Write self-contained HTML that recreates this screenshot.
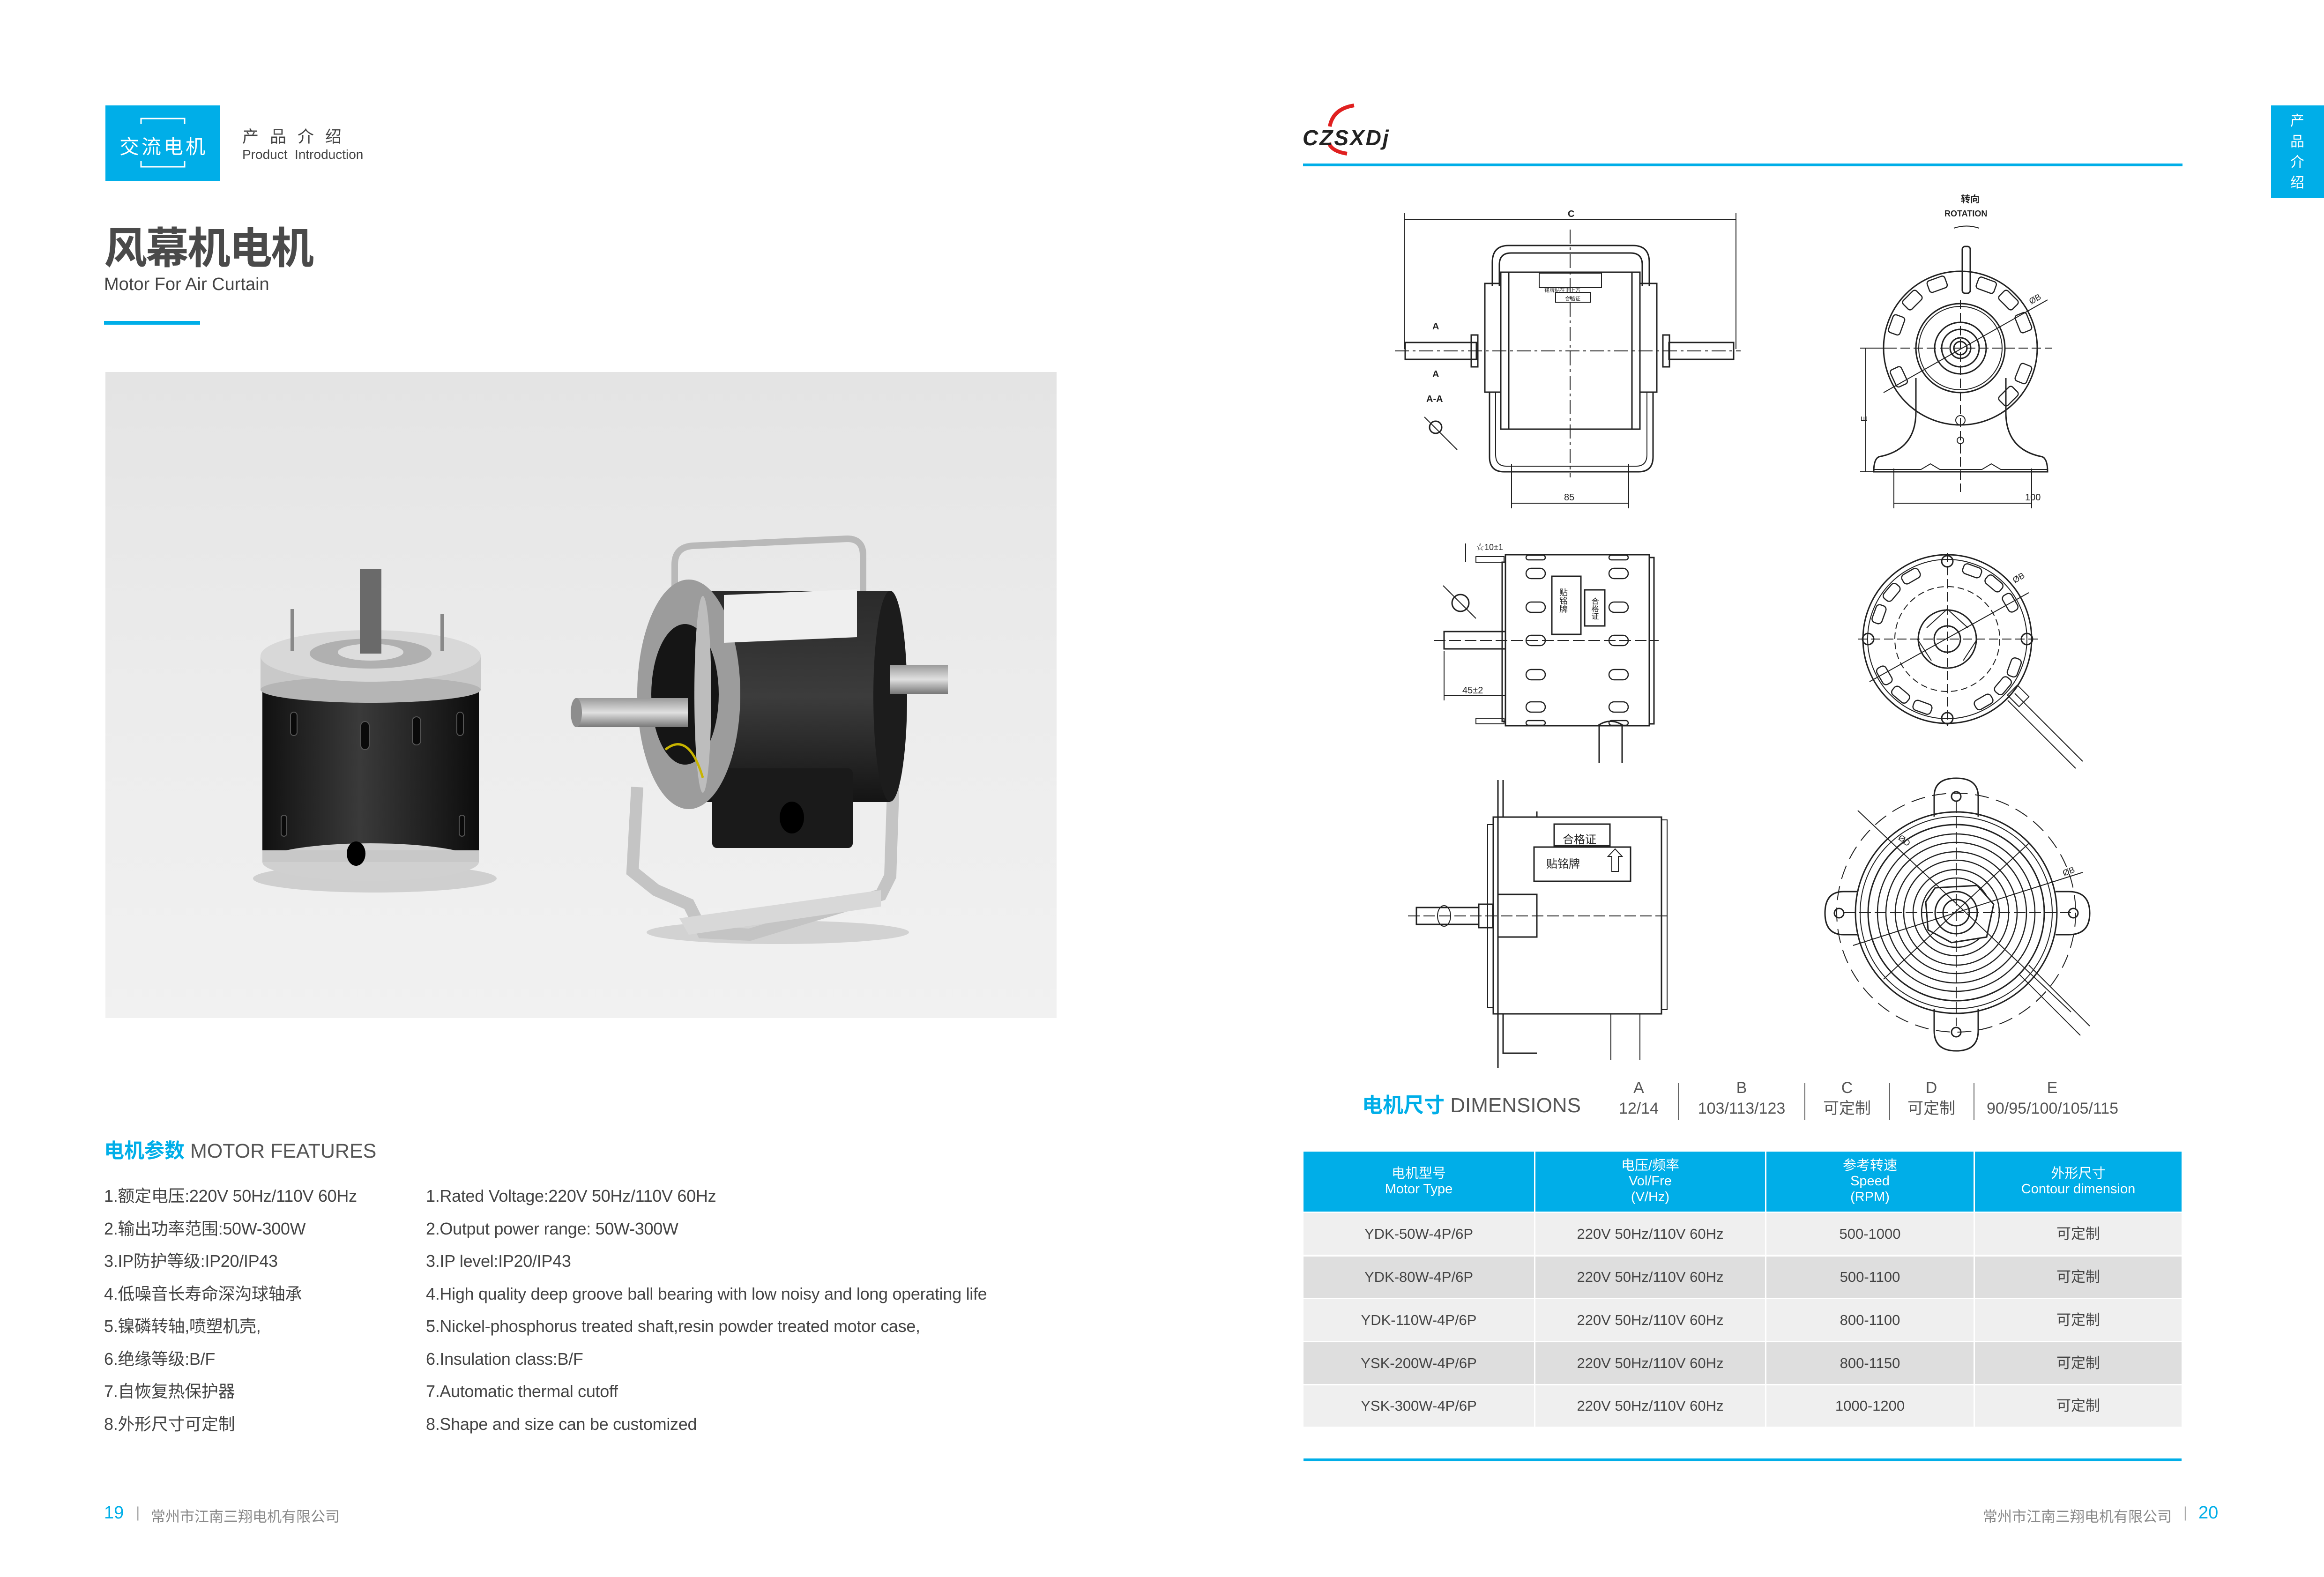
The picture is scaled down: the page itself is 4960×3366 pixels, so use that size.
<!DOCTYPE html>
<html><head><meta charset="utf-8">
<style>
*{margin:0;padding:0;box-sizing:border-box}
body{width:4960px;height:3366px;background:#fff;position:relative;overflow:hidden;font-family:"Liberation Sans","Noto Sans CJK SC",sans-serif;color:#444}
.a{position:absolute;white-space:nowrap}
.blue{color:#00aee8}
.cell{position:absolute;display:flex;align-items:center;justify-content:center;text-align:center;font-size:31px;color:#444;line-height:1.15}
.hd{background:#00aee8;color:#fff;font-size:29px}
.f{position:absolute;font-size:36px;color:#444;white-space:nowrap;letter-spacing:-0.3px;line-height:44px}
</style></head><body>

<!-- left header -->
<div class="a" style="left:225px;top:225px;width:244px;height:161px;background:#00aee8"></div>
<svg class="a" style="left:225px;top:225px" width="244" height="161">
<path d="M76 40 V28 H169 V40 M76 119 V131 H169 V119" stroke="#fff" stroke-width="3" fill="none"/>
</svg>
<div class="a" style="left:255px;top:280px;font-size:42px;color:#fff;letter-spacing:5px">交流电机</div>
<div class="a" style="left:517px;top:264px;font-size:35px;color:#444;letter-spacing:24px">产品介绍</div>
<div class="a" style="left:517px;top:314px;font-size:28px;color:#444">Product&nbsp; Introduction</div>
<div class="a" style="left:222px;top:456px;font-size:92px;color:#4a4a4a;font-weight:bold;letter-spacing:-3px">风幕机电机</div>
<div class="a" style="left:222px;top:586px;font-size:38px;color:#444">Motor For Air Curtain</div>
<div class="a" style="left:222px;top:685px;width:205px;height:8px;background:#00aee8"></div>

<!-- photo -->
<div class="a" style="left:225px;top:794px;width:2030px;height:1379px;background:linear-gradient(180deg,#e4e4e4 0%,#ececec 50%,#f1f1f1 100%)"></div>
<svg class="a" style="left:0;top:0" width="2300" height="2200">
<defs>
<linearGradient id="blk" x1="0" x2="1"><stop offset="0" stop-color="#111"/><stop offset=".45" stop-color="#3a3a3a"/><stop offset="1" stop-color="#0d0d0d"/></linearGradient>
<linearGradient id="blk2" x1="0" y1="0" x2="0" y2="1"><stop offset="0" stop-color="#2a2a2a"/><stop offset=".5" stop-color="#3c3c3c"/><stop offset="1" stop-color="#141414"/></linearGradient>
<linearGradient id="sil" x1="0" y1="0" x2="0" y2="1"><stop offset="0" stop-color="#9a9a9a"/><stop offset=".5" stop-color="#e0e0e0"/><stop offset="1" stop-color="#777"/></linearGradient>
</defs>
<ellipse cx="800" cy="1875" rx="260" ry="30" fill="#cfcfcf"/>
<rect x="560" y="1470" width="462" height="370" fill="url(#blk)"/>
<ellipse cx="791" cy="1840" rx="231" ry="40" fill="#d0d0d0"/>
<rect x="560" y="1815" width="462" height="25" fill="#c8c8c8"/>
<rect x="556" y="1400" width="470" height="72" fill="#c9c9c9"/>
<ellipse cx="791" cy="1472" rx="235" ry="28" fill="#b5b5b5"/>
<ellipse cx="791" cy="1400" rx="235" ry="55" fill="#d8d8d8"/>
<ellipse cx="791" cy="1395" rx="130" ry="32" fill="#b0b0b0"/>
<ellipse cx="791" cy="1392" rx="70" ry="18" fill="#ddd"/>
<rect x="768" y="1215" width="46" height="180" fill="#6a6a6a"/>
<rect x="620" y="1300" width="8" height="90" fill="#888"/><rect x="940" y="1310" width="8" height="80" fill="#888"/>
<g fill="#0a0a0a" stroke="#555" stroke-width="2">
<rect x="620" y="1520" width="14" height="50" rx="7"/><rect x="770" y="1540" width="18" height="60" rx="9"/><rect x="880" y="1530" width="18" height="60" rx="9"/><rect x="975" y="1520" width="14" height="50" rx="7"/>
<rect x="600" y="1740" width="12" height="45" rx="6"/><rect x="980" y="1740" width="12" height="45" rx="6"/>
</g>
<ellipse cx="760" cy="1822" rx="20" ry="26" fill="#000"/>
<!-- right motor -->
<ellipse cx="1660" cy="1990" rx="280" ry="25" fill="#d2d2d2"/>
<path d="M1440 1340 L1440 1205 Q1440 1168 1478 1165 L1808 1150 Q1842 1150 1842 1185 L1842 1285" stroke="#b9b9b9" stroke-width="14" fill="none"/>
<path d="M1360 1680 L1350 1860 L1400 1900 L1470 1930 L1500 1990 L1600 1995 L1880 1910 L1900 1870 L1907 1660" stroke="#c4c4c4" stroke-width="26" fill="none"/>
<polygon points="1450,1960 1880,1900 1880,1935 1470,1995" fill="#d8d8d8"/>
<rect x="1460" y="1262" width="440" height="450" fill="url(#blk2)"/>
<ellipse cx="1900" cy="1486" rx="36" ry="225" fill="#1c1c1c"/>
<rect x="1520" y="1640" width="300" height="170" rx="10" fill="#1a1a1a"/>
<ellipse cx="1690" cy="1745" rx="26" ry="34" fill="#000"/>
<ellipse cx="1470" cy="1482" rx="110" ry="245" fill="#9c9c9c"/>
<ellipse cx="1462" cy="1482" rx="72" ry="150" fill="#151515"/>
<ellipse cx="1500" cy="1482" rx="18" ry="210" fill="#bdbdbd"/>
<rect x="1228" y="1490" width="240" height="62" fill="url(#sil)"/>
<ellipse cx="1230" cy="1521" rx="12" ry="31" fill="#8d8d8d"/>
<rect x="1900" y="1419" width="123" height="62" fill="url(#sil)"/>
<polygon points="1545,1270 1829,1258 1829,1360 1545,1372" fill="#efefef"/>
<path d="M1420 1600 Q1470 1560 1500 1660" stroke="#c8b400" stroke-width="5" fill="none"/>
</svg>

<!-- features -->
<div class="a" style="left:222px;top:2422px;font-size:43px;color:#555"><b class="blue">电机参数</b> MOTOR FEATURES</div>
<div class="f" style="left:222px;top:2531px">1.额定电压:220V 50Hz/110V 60Hz</div>
<div class="f" style="left:222px;top:2601px">2.输出功率范围:50W-300W</div>
<div class="f" style="left:222px;top:2670px">3.IP防护等级:IP20/IP43</div>
<div class="f" style="left:222px;top:2740px">4.低噪音长寿命深沟球轴承</div>
<div class="f" style="left:222px;top:2809px">5.镍磷转轴,喷塑机壳,</div>
<div class="f" style="left:222px;top:2879px">6.绝缘等级:B/F</div>
<div class="f" style="left:222px;top:2948px">7.自恢复热保护器</div>
<div class="f" style="left:222px;top:3018px">8.外形尺寸可定制</div>
<div class="f" style="left:909px;top:2531px">1.Rated Voltage:220V 50Hz/110V 60Hz</div>
<div class="f" style="left:909px;top:2601px">2.Output power range: 50W-300W</div>
<div class="f" style="left:909px;top:2670px">3.IP level:IP20/IP43</div>
<div class="f" style="left:909px;top:2740px">4.High quality deep groove ball bearing with low noisy and long operating life</div>
<div class="f" style="left:909px;top:2809px">5.Nickel-phosphorus treated shaft,resin powder treated motor case,</div>
<div class="f" style="left:909px;top:2879px">6.Insulation class:B/F</div>
<div class="f" style="left:909px;top:2948px">7.Automatic thermal cutoff</div>
<div class="f" style="left:909px;top:3018px">8.Shape and size can be customized</div>

<div class="a" style="left:222px;top:3208px;font-size:38px;color:#00aee8">19</div>
<div class="a" style="left:290px;top:3210px;font-size:32px;color:#aaa">|</div>
<div class="a" style="left:322px;top:3212px;font-size:31px;color:#888">常州市江南三翔电机有限公司</div>

<!-- right header -->
<svg class="a" style="left:2770px;top:220px" width="240" height="115">
<path d="M120 5 Q75 12 68 50 M66 85 Q72 103 105 108" stroke="#e02020" stroke-width="8" fill="none"/>
<text x="10" y="90" font-family="Liberation Sans" font-size="46" font-weight="bold" font-style="italic" fill="#222" letter-spacing="3">CZSXDj</text>
</svg>
<div class="a" style="left:2781px;top:349px;width:1877px;height:6px;background:#00aee8"></div>
<div class="a" style="left:4847px;top:225px;width:113px;height:198px;background:#00aee8"></div>
<div class="a" style="left:4888px;top:237px;font-size:30px;color:#fff;line-height:44px;width:32px;white-space:normal">产<br>品<br>介<br>绍</div>

<!-- drawings -->
<svg class="a" style="left:0;top:0" width="4960" height="2300" font-family="Liberation Sans,Noto Sans CJK SC,sans-serif">
<g stroke="#222" stroke-width="3" fill="none">
<!-- D1 front view -->
<line x1="2997" y1="468" x2="3705" y2="468" stroke-width="2"/>
<line x1="2997" y1="455" x2="2997" y2="745" stroke-width="2"/><line x1="3705" y1="455" x2="3705" y2="745" stroke-width="2"/>
<path d="M3185 611 V560 Q3185 524 3220 524 H3485 Q3520 524 3520 560 V611"/>
<path d="M3200 611 V565 Q3200 540 3225 540 H3480 Q3505 540 3505 565 V611"/>
<rect x="3203" y="581" width="297" height="335"/>
<line x1="3220" y1="581" x2="3220" y2="916"/><line x1="3483" y1="581" x2="3483" y2="916"/>
<rect x="3285" y="583" width="133" height="31" stroke-width="2"/>
<rect x="3320" y="624" width="75" height="21" stroke-width="2"/>
<rect x="3169" y="605" width="34" height="232"/><rect x="3500" y="605" width="36" height="232"/>
<path d="M3179 837 V975 Q3179 1007 3210 1007 H3497 Q3528 1007 3528 975 V837"/>
<path d="M3192 837 V970 Q3192 995 3215 995 H3492 Q3515 995 3515 970 V837" stroke-width="2"/>
<rect x="2999" y="731" width="152" height="36"/><rect x="3562" y="731" width="138" height="36"/>
<rect x="3140" y="715" width="14" height="68"/><rect x="3549" y="715" width="14" height="68"/>
<line x1="2977" y1="749" x2="3715" y2="749" stroke-width="2" stroke-dasharray="30 8 6 8"/>
<line x1="3351" y1="490" x2="3351" y2="1019" stroke-width="2" stroke-dasharray="30 8 6 8"/>
<circle cx="3064" cy="912" r="13"/><line x1="3040" y1="890" x2="3110" y2="960" stroke-width="2"/>
<line x1="3226" y1="990" x2="3226" y2="1085" stroke-width="2"/><line x1="3476" y1="990" x2="3476" y2="1085" stroke-width="2"/>
<line x1="3226" y1="1074" x2="3476" y2="1074" stroke-width="2"/>
<!-- D2 end view with base -->
<path d="M4170 487 Q4197 478 4224 487" stroke-width="2"/>
<rect x="4188" y="526" width="17" height="100" rx="6"/>
<circle cx="4184" cy="743" r="164"/>
<circle cx="4184" cy="743" r="95"/><circle cx="4184" cy="743" r="89" stroke-width="2"/>
<circle cx="4184" cy="743" r="55"/><circle cx="4184" cy="743" r="40"/><circle cx="4184" cy="743" r="22"/><circle cx="4184" cy="743" r="14"/>
<path d="M4089 807 V880 Q4089 960 4010 975 Q3999 980 3999 1007 H4370 Q4370 980 4359 975 Q4281 960 4281 880 V807"/>
<path d="M4000 1002 H4100 L4120 990 L4140 1002 H4230 L4250 990 L4270 1002 H4370" stroke-width="2"/>
<line x1="3982" y1="743" x2="3982" y2="1007" stroke-width="2"/>
<line x1="3970" y1="743" x2="4030" y2="743" stroke-width="2"/><line x1="3970" y1="1007" x2="4000" y2="1007" stroke-width="2"/>
<line x1="4000" y1="743" x2="4380" y2="743" stroke-width="2" stroke-dasharray="20 8"/>
<line x1="4184" y1="640" x2="4184" y2="1050" stroke-width="2" stroke-dasharray="20 8"/>
<line x1="4042" y1="1000" x2="4042" y2="1085" stroke-width="2"/><line x1="4336" y1="1000" x2="4336" y2="1085" stroke-width="2"/>
<line x1="4042" y1="1074" x2="4336" y2="1074" stroke-width="2"/>
<line x1="4020" y1="838" x2="4370" y2="640" stroke-width="2"/>
<circle cx="4184" cy="897" r="10" stroke-width="2"/><circle cx="4184" cy="940" r="7" stroke-width="2"/>
<g stroke-width="2.5">
<g transform="rotate(-70 4184 743)"><rect x="4316" y="729" width="26" height="40" rx="6"/></g>
<g transform="rotate(-45 4184 743)"><rect x="4316" y="723" width="26" height="40" rx="6"/></g>
<g transform="rotate(-22 4184 743)"><rect x="4316" y="723" width="26" height="40" rx="6"/></g>
<g transform="rotate(22 4184 743)"><rect x="4316" y="723" width="26" height="40" rx="6"/></g>
<g transform="rotate(45 4184 743)"><rect x="4316" y="723" width="26" height="40" rx="6"/></g>
<g transform="rotate(-110 4184 743)"><rect x="4316" y="723" width="26" height="40" rx="6"/></g>
<g transform="rotate(-135 4184 743)"><rect x="4316" y="723" width="26" height="40" rx="6"/></g>
<g transform="rotate(-160 4184 743)"><rect x="4316" y="723" width="26" height="40" rx="6"/></g>
<g transform="rotate(155 4184 743)"><rect x="4316" y="723" width="26" height="40" rx="6"/></g>
</g>
<!-- D3 side view -->
<rect x="3213" y="1184" width="307" height="365"/>
<rect x="3206" y="1200" width="7" height="340"/><rect x="3520" y="1190" width="10" height="355"/>
<g stroke-width="2.5">
<rect x="3257" y="1185" width="41" height="10" rx="5"/><rect x="3434" y="1185" width="41" height="10" rx="5"/>
<rect x="3257" y="1213" width="41" height="22" rx="11"/><rect x="3434" y="1213" width="41" height="22" rx="11"/>
<rect x="3257" y="1285" width="41" height="22" rx="11"/><rect x="3434" y="1285" width="41" height="22" rx="11"/>
<rect x="3257" y="1356" width="41" height="22" rx="11"/><rect x="3434" y="1356" width="41" height="22" rx="11"/>
<rect x="3257" y="1429" width="41" height="22" rx="11"/><rect x="3434" y="1429" width="41" height="22" rx="11"/>
<rect x="3257" y="1498" width="41" height="22" rx="11"/><rect x="3434" y="1498" width="41" height="22" rx="11"/>
<rect x="3257" y="1538" width="41" height="10" rx="5"/><rect x="3434" y="1538" width="41" height="10" rx="5"/>
</g>
<rect x="3312" y="1230" width="62" height="124"/><rect x="3382" y="1259" width="43" height="77"/>
<rect x="3082" y="1348" width="131" height="37"/>
<line x1="3060" y1="1367" x2="3540" y2="1367" stroke-width="2" stroke-dasharray="25 8"/>
<line x1="3082" y1="1390" x2="3082" y2="1495" stroke-width="2"/><line x1="3082" y1="1485" x2="3213" y2="1485" stroke-width="2"/>
<rect x="3150" y="1188" width="60" height="12" stroke-width="2"/><rect x="3150" y="1533" width="60" height="12" stroke-width="2"/>
<circle cx="3117" cy="1287" r="18"/><line x1="3080" y1="1250" x2="3150" y2="1320" stroke-width="2"/>
<line x1="3128" y1="1160" x2="3128" y2="1200" stroke-width="2"/>
<path d="M3413 1549 V1628 M3462 1549 V1628"/><path d="M3410 1549 Q3437 1530 3465 1549"/>
<!-- D4 end view -->
<circle cx="4156" cy="1364" r="180"/><circle cx="4156" cy="1364" r="170" stroke-width="2"/>
<circle cx="4156" cy="1364" r="112" stroke-dasharray="14 8" stroke-width="2"/>
<circle cx="4156" cy="1364" r="62"/><circle cx="4156" cy="1364" r="28"/>
<line x1="3965" y1="1364" x2="4350" y2="1364" stroke-width="2" stroke-dasharray="20 8"/>
<line x1="4156" y1="1180" x2="4156" y2="1550" stroke-width="2" stroke-dasharray="20 8"/>
<line x1="3990" y1="1455" x2="4330" y2="1265" stroke-width="2"/>
<g stroke-width="2.5">
<g transform="rotate(20 4156 1364)"><rect x="4300" y="1352" width="22" height="40" rx="8"/></g>
<g transform="rotate(40 4156 1364)"><rect x="4300" y="1344" width="22" height="40" rx="8"/></g>
<g transform="rotate(60 4156 1364)"><rect x="4300" y="1344" width="22" height="40" rx="8"/></g>
<g transform="rotate(110 4156 1364)"><rect x="4300" y="1344" width="22" height="40" rx="8"/></g>
<g transform="rotate(130 4156 1364)"><rect x="4300" y="1344" width="22" height="40" rx="8"/></g>
<g transform="rotate(150 4156 1364)"><rect x="4300" y="1344" width="22" height="40" rx="8"/></g>
<g transform="rotate(200 4156 1364)"><rect x="4300" y="1344" width="22" height="40" rx="8"/></g>
<g transform="rotate(220 4156 1364)"><rect x="4300" y="1344" width="22" height="40" rx="8"/></g>
<g transform="rotate(240 4156 1364)"><rect x="4300" y="1344" width="22" height="40" rx="8"/></g>
<g transform="rotate(290 4156 1364)"><rect x="4300" y="1344" width="22" height="40" rx="8"/></g>
<g transform="rotate(310 4156 1364)"><rect x="4300" y="1344" width="22" height="40" rx="8"/></g>
<g transform="rotate(330 4156 1364)"><rect x="4300" y="1344" width="22" height="40" rx="8"/></g>
</g>
<circle cx="4156" cy="1198" r="12"/><circle cx="4156" cy="1533" r="12"/><circle cx="3987" cy="1364" r="12"/><circle cx="4326" cy="1364" r="12"/>
<path d="M4156 1300 L4200 1340 M4156 1300 L4112 1340 M4220 1364 L4190 1410 M4092 1364 L4122 1410" stroke-width="2"/>
<path d="M4285 1495 L4430 1640 M4300 1480 L4445 1625" stroke-width="2"/>
<rect x="4290" y="1470" width="35" height="30" transform="rotate(45 4307 1485)" stroke-width="2"/>
<!-- D5 bottom side view -->
<path d="M3197 1665 V2280 M3208 1665 V1744 H3280 V1732" />
<path d="M3208 2164 V2248 H3280"/>
<rect x="3187" y="1744" width="359" height="420"/>
<rect x="3175" y="1760" width="12" height="390" stroke-width="2"/><rect x="3546" y="1750" width="12" height="405" stroke-width="2"/>
<rect x="3317" y="1759" width="119" height="46"/>
<rect x="3274" y="1808" width="206" height="73"/>
<path d="M3440 1860 V1828 H3432 L3447 1812 L3462 1828 H3454 V1860 Z" stroke-width="2"/>
<rect x="3197" y="1909" width="83" height="91"/>
<rect x="3023" y="1937" width="133" height="36"/><rect x="3156" y="1930" width="30" height="50"/>
<line x1="3005" y1="1955" x2="3560" y2="1955" stroke-width="2" stroke-dasharray="25 8"/>
<ellipse cx="3082" cy="1955" rx="14" ry="22" stroke-width="2"/>
<path d="M3438 2164 V2262 M3500 2164 V2262" stroke-width="2"/>
<!-- D6 -->
<circle cx="4175" cy="1948" r="255" stroke-dasharray="30 16" stroke-width="2"/>
<path d="M4128 1743 V1700 Q4128 1661 4175 1661 Q4222 1661 4222 1700 V1743"/>
<path d="M4128 2153 V2200 Q4128 2243 4175 2243 Q4222 2243 4222 2200 V2153"/>
<path d="M4387 1903 H4415 Q4460 1903 4460 1949 Q4460 1995 4415 1995 H4387"/>
<path d="M3963 1903 H3935 Q3895 1903 3895 1949 Q3895 1995 3935 1995 H3963"/>
<circle cx="4175" cy="1700" r="10"/><circle cx="4175" cy="2203" r="10"/><circle cx="4425" cy="1949" r="10"/><circle cx="3925" cy="1949" r="10"/>
<circle cx="4175" cy="1948" r="215"/><circle cx="4175" cy="1948" r="205" stroke-width="2"/><circle cx="4175" cy="1948" r="188"/>
<g stroke-width="2.5">
<circle cx="4175" cy="1948" r="168"/><circle cx="4175" cy="1948" r="150"/><circle cx="4175" cy="1948" r="130"/><circle cx="4175" cy="1948" r="112"/><circle cx="4175" cy="1948" r="92"/><circle cx="4175" cy="1948" r="74"/>
</g>
<polygon points="4130,1895 4220,1890 4255,1930 4240,2000 4165,2012 4115,1985 4110,1925" fill="#fff"/>
<circle cx="4175" cy="1948" r="45"/><circle cx="4175" cy="1948" r="28"/>
<line x1="3935" y1="1948" x2="4420" y2="1948" stroke-width="2" stroke-dasharray="25 8"/>
<line x1="4175" y1="1710" x2="4175" y2="2190" stroke-width="2" stroke-dasharray="25 8"/>
<line x1="3965" y1="1730" x2="4420" y2="2160" stroke-width="2"/>
<line x1="3955" y1="2018" x2="4445" y2="1862" stroke-width="2"/>
<line x1="4020" y1="2090" x2="4330" y2="1800" stroke-width="2"/>
<path d="M4310 2080 L4440 2210 M4330 2060 L4460 2190" stroke-width="2"/>
</g>
<g fill="#222" stroke="none">
<text x="3346" y="463" font-size="20" font-weight="bold">C</text>
<text x="3057" y="703" font-size="20" font-weight="bold">A</text>
<text x="3057" y="805" font-size="20" font-weight="bold">A</text>
<text x="3044" y="858" font-size="20" font-weight="bold">A-A</text>
<text x="3338" y="1068" font-size="20">85</text>
<text x="4185" y="432" font-size="20" font-weight="bold">转向</text>
<text x="4150" y="462" font-size="18" font-weight="bold">ROTATION</text>
<text x="4322" y="1068" font-size="20">100</text>
<text x="3121" y="1480" font-size="20">45±2</text>
<text x="3150" y="1174" font-size="18">☆10±1</text>
<text x="3296" y="623" font-size="11">铭牌贴在正上方</text>
<text x="3340" y="641" font-size="11">合格证</text>
<text x="3335" y="1800" font-size="24">合格证</text>
<text x="3300" y="1852" font-size="24">贴铭牌</text>
<text x="4050" y="1790" font-size="18" transform="rotate(40 4050 1790)">ØD</text>
<text x="4405" y="1870" font-size="18" transform="rotate(-20 4405 1870)">ØB</text>
<text x="4335" y="650" font-size="18" transform="rotate(-30 4335 650)">ØB</text>
<text x="4300" y="1245" font-size="18" transform="rotate(-30 4300 1245)">ØB</text>
<text x="3985" y="900" font-size="18" transform="rotate(-90 3985 900)">E</text>
<text x="3336" y="1255" font-size="18" writing-mode="tb">贴铭牌</text>
<text x="3402" y="1275" font-size="16" writing-mode="tb">合格证</text>
</g>
</svg>

<!-- dimensions -->
<div class="a" style="left:2907px;top:2323px;font-size:44px;color:#555"><b class="blue">电机尺寸</b> DIMENSIONS</div>
<div class="a" style="left:3440px;top:2300px;width:115px;text-align:center;font-size:34px;line-height:44px;color:#555">A<br>12/14</div>
<div class="a" style="left:3617px;top:2300px;width:200px;text-align:center;font-size:34px;line-height:44px;color:#555">B<br>103/113/123</div>
<div class="a" style="left:3882px;top:2300px;width:120px;text-align:center;font-size:34px;line-height:44px;color:#555">C<br>可定制</div>
<div class="a" style="left:4062px;top:2300px;width:120px;text-align:center;font-size:34px;line-height:44px;color:#555">D<br>可定制</div>
<div class="a" style="left:4240px;top:2300px;width:280px;text-align:center;font-size:34px;line-height:44px;color:#555">E<br>90/95/100/105/115</div>
<div class="a" style="left:3581px;top:2312px;width:2px;height:78px;background:#666"></div>
<div class="a" style="left:3851px;top:2312px;width:2px;height:78px;background:#666"></div>
<div class="a" style="left:4032px;top:2312px;width:2px;height:78px;background:#666"></div>
<div class="a" style="left:4212px;top:2312px;width:2px;height:78px;background:#666"></div>

<!-- table -->
<div class="cell hd" style="left:2782px;top:2458px;width:492px;height:128px">电机型号<br>Motor Type</div>
<div class="cell hd" style="left:3277px;top:2458px;width:490px;height:128px">电压/频率<br>Vol/Fre<br>(V/Hz)</div>
<div class="cell hd" style="left:3770px;top:2458px;width:442px;height:128px">参考转速<br>Speed<br>(RPM)</div>
<div class="cell hd" style="left:4215px;top:2458px;width:441px;height:128px">外形尺寸<br>Contour dimension</div>

<div class="cell" style="left:2782px;top:2589px;width:492px;height:89px;background:#efefef">YDK-50W-4P/6P</div>
<div class="cell" style="left:3277px;top:2589px;width:490px;height:89px;background:#efefef">220V 50Hz/110V 60Hz</div>
<div class="cell" style="left:3770px;top:2589px;width:442px;height:89px;background:#efefef">500-1000</div>
<div class="cell" style="left:4215px;top:2589px;width:441px;height:89px;background:#efefef">可定制</div>

<div class="cell" style="left:2782px;top:2682px;width:492px;height:88px;background:#dedede">YDK-80W-4P/6P</div>
<div class="cell" style="left:3277px;top:2682px;width:490px;height:88px;background:#dedede">220V 50Hz/110V 60Hz</div>
<div class="cell" style="left:3770px;top:2682px;width:442px;height:88px;background:#dedede">500-1100</div>
<div class="cell" style="left:4215px;top:2682px;width:441px;height:88px;background:#dedede">可定制</div>

<div class="cell" style="left:2782px;top:2773px;width:492px;height:89px;background:#efefef">YDK-110W-4P/6P</div>
<div class="cell" style="left:3277px;top:2773px;width:490px;height:89px;background:#efefef">220V 50Hz/110V 60Hz</div>
<div class="cell" style="left:3770px;top:2773px;width:442px;height:89px;background:#efefef">800-1100</div>
<div class="cell" style="left:4215px;top:2773px;width:441px;height:89px;background:#efefef">可定制</div>

<div class="cell" style="left:2782px;top:2865px;width:492px;height:89px;background:#dedede">YSK-200W-4P/6P</div>
<div class="cell" style="left:3277px;top:2865px;width:490px;height:89px;background:#dedede">220V 50Hz/110V 60Hz</div>
<div class="cell" style="left:3770px;top:2865px;width:442px;height:89px;background:#dedede">800-1150</div>
<div class="cell" style="left:4215px;top:2865px;width:441px;height:89px;background:#dedede">可定制</div>

<div class="cell" style="left:2782px;top:2957px;width:492px;height:88px;background:#efefef">YSK-300W-4P/6P</div>
<div class="cell" style="left:3277px;top:2957px;width:490px;height:88px;background:#efefef">220V 50Hz/110V 60Hz</div>
<div class="cell" style="left:3770px;top:2957px;width:442px;height:88px;background:#efefef">1000-1200</div>
<div class="cell" style="left:4215px;top:2957px;width:441px;height:88px;background:#efefef">可定制</div>

<div class="a" style="left:2782px;top:3113px;width:1874px;height:6px;background:#00aee8"></div>

<div class="a" style="left:4232px;top:3212px;font-size:31px;color:#888">常州市江南三翔电机有限公司</div>
<div class="a" style="left:4660px;top:3210px;font-size:32px;color:#aaa">|</div>
<div class="a" style="left:4692px;top:3208px;font-size:38px;color:#00aee8">20</div>
</body></html>
